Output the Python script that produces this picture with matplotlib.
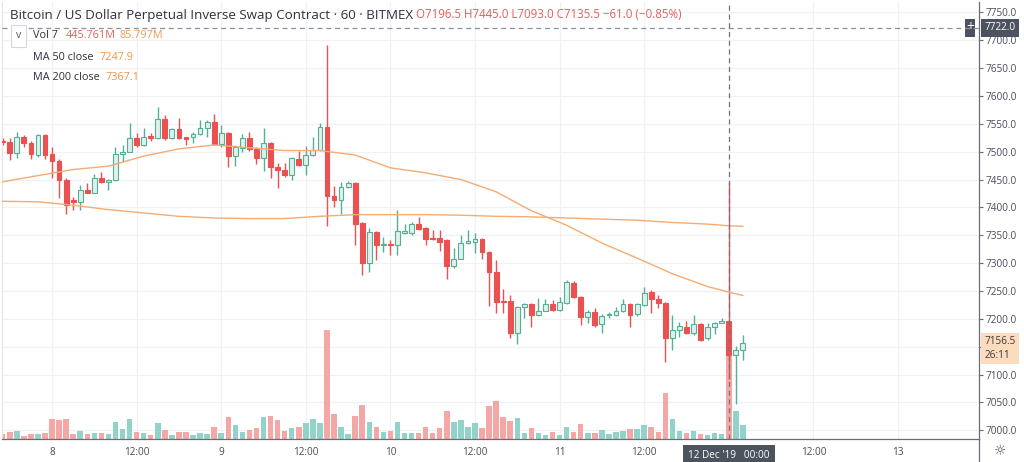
import matplotlib
matplotlib.use("Agg")
import matplotlib.pyplot as plt
import matplotlib.transforms as mtransforms
from matplotlib.lines import Line2D
import numpy as np

plt.rcParams['font.family'] = ['Open Sans', 'DejaVu Sans']

# -------------------------------
# Data: BTC/USD hourly candles, 7 Dec 17:00 -> 12 Dec 02:00
# -------------------------------
opens = [7520, 7518, 7498, 7527, 7516, 7494, 7530, 7496, 7483, 7450,
         7414, 7410, 7431, 7426, 7452, 7446, 7449, 7495, 7500, 7524,
         7512, 7528, 7524, 7558, 7525, 7540, 7526, 7526, 7531, 7542,
         7553, 7513, 7533, 7492, 7506, 7524, 7504, 7488, 7516, 7473,
         7467, 7458, 7486, 7476, 7494, 7503, 7544, 7421, 7413, 7436,
         7444, 7372, 7301, 7355, 7332, 7334, 7332, 7354, 7354, 7371,
         7363, 7346, 7346, 7341, 7294, 7308, 7337, 7338, 7344, 7320,
         7284, 7232, 7232, 7174, 7221, 7226, 7207, 7215, 7227, 7216,
         7228, 7265, 7239, 7204, 7213, 7190, 7207, 7207, 7214, 7226,
         7208, 7225, 7249, 7235, 7228, 7165, 7180, 7186, 7175, 7190,
         7165, 7186, 7193, 7196.5, 7135.5, 7145]
highs = [7525, 7524, 7536, 7530, 7520, 7532, 7532, 7509, 7486, 7452,
         7419, 7441, 7443, 7460, 7463, 7451, 7509, 7512, 7551, 7533,
         7542, 7533, 7581, 7565, 7542, 7560, 7527, 7536, 7557, 7556,
         7567, 7548, 7535, 7512, 7531, 7536, 7508, 7542, 7518, 7479,
         7480, 7491, 7502, 7510, 7527, 7552, 7691, 7438, 7446, 7448,
         7446, 7374, 7363, 7357, 7347, 7341, 7396, 7371, 7374, 7383,
         7365, 7359, 7359, 7343, 7328, 7350, 7360, 7354, 7346, 7322,
         7305, 7254, 7242, 7224, 7228, 7228, 7238, 7235, 7234, 7239,
         7269, 7268, 7241, 7216, 7219, 7208, 7213, 7221, 7235, 7228,
         7228, 7257, 7251, 7242, 7230, 7207, 7195, 7197, 7207, 7192,
         7192, 7195, 7202, 7445, 7151, 7171]
lows = [7512, 7485, 7488, 7509, 7486, 7490, 7487, 7452, 7416, 7389,
        7395, 7395, 7425, 7425, 7444, 7431, 7448, 7482, 7499, 7509,
        7510, 7519, 7522, 7521, 7523, 7523, 7512, 7515, 7530, 7527,
        7512, 7509, 7472, 7474, 7500, 7502, 7478, 7466, 7452, 7434,
        7454, 7450, 7474, 7459, 7493, 7502, 7366, 7400, 7389, 7435,
        7332, 7278, 7284, 7305, 7320, 7314, 7314, 7353, 7350, 7360,
        7332, 7341, 7322, 7271, 7292, 7307, 7335, 7318, 7308, 7224,
        7210, 7210, 7165, 7155, 7201, 7186, 7205, 7214, 7215, 7215,
        7226, 7237, 7189, 7192, 7186, 7175, 7201, 7205, 7212, 7186,
        7206, 7223, 7210, 7219, 7123, 7145, 7168, 7173, 7171, 7160,
        7163, 7172, 7192, 7093, 7048, 7126]
closes = [7517, 7498, 7527, 7515, 7495, 7530, 7494, 7484, 7450, 7404,
          7410, 7431, 7426, 7452, 7446, 7449, 7495, 7500, 7524, 7512,
          7527, 7525, 7558, 7524, 7540, 7525, 7523, 7531, 7542, 7553,
          7513, 7533, 7492, 7509, 7524, 7504, 7488, 7515, 7472, 7467,
          7458, 7488, 7476, 7494, 7503, 7544, 7420, 7413, 7437, 7444,
          7371, 7301, 7355, 7332, 7334, 7332, 7357, 7358, 7371, 7362,
          7344, 7344, 7338, 7294, 7308, 7336, 7339, 7344, 7320, 7284,
          7230, 7230, 7174, 7221, 7226, 7207, 7215, 7227, 7216, 7230,
          7266, 7239, 7204, 7213, 7189, 7205, 7209, 7215, 7226, 7207,
          7226, 7246, 7235, 7228, 7165, 7180, 7187, 7175, 7190, 7163,
          7185, 7193, 7197, 7135.5, 7145, 7156.5]
volumes_m = [25, 36, 41, 17, 23, 23, 31, 101, 92, 101,
             26, 41, 23, 31, 31, 26, 84, 50, 97, 36,
             31, 20, 79, 45, 20, 36, 33, 20, 31, 23,
             58, 31, 111, 71, 36, 45, 54, 111, 116, 94,
             41, 54, 58, 79, 97, 79, 540, 122, 61, 23,
             114, 170, 84, 58, 36, 41, 84, 31, 28, 31,
             58, 28, 54, 140, 84, 92, 61, 81, 54, 162,
             188, 111, 89, 106, 31, 54, 31, 20, 36, 20,
             61, 36, 74, 28, 31, 45, 23, 36, 41, 50,
             50, 71, 61, 36, 226, 97, 41, 28, 41, 23,
             20, 28, 23, 445.761, 137, 71]

# moving averages read at every 5th candle
ma_idx = [0, 5, 10, 15, 20, 25, 30, 35, 40, 45, 50, 55, 60, 65, 70, 75,
          80, 85, 90, 95, 100, 103, 105]
ma50 = [7446, 7457, 7468, 7474, 7492, 7505, 7512, 7507, 7502, 7502, 7494,
        7471, 7462, 7450, 7428, 7394, 7368, 7336, 7309, 7281, 7258, 7248, 7242]
ma200 = [7411, 7410, 7404, 7396, 7390, 7384, 7381, 7380, 7380, 7384, 7387,
         7387, 7387, 7386, 7384, 7383, 7381, 7379, 7377, 7373, 7370, 7367, 7366]

first_hour = -7  # 7 Dec 17:00 relative to 8 Dec 00:00
tick_hours = [0, 12, 24, 36, 48, 60, 72, 84, 96, 108, 120]
tick_labels = ["8", "12:00", "9", "12:00", "10", "12:00", "11", "12:00", "", "12:00", "13"]
price_ticks = list(range(7000, 7751, 50))

cross_hour = 96
cross_price = 7722.0
last_price = 7156.5

# -------------------------------
# Figure
# -------------------------------
W, H = 1024, 462
fig = plt.figure(figsize=(W / 100, H / 100), dpi=100)
fig.patch.set_facecolor("white")
rect = [2 / W, 23 / H, 977 / W, 437 / H]

up_c = "#53b096"
up_fill = "#dff1ea"
dn_c = "#ea5150"
vol_up = "#92d3c9"
vol_dn = "#f4a7a5"
ma_c = "#f6ab72"
grid_c = "#eff1f5"
txt_c = "#4a4d57"

hours = np.arange(len(opens)) + first_hour
o = np.array(opens); c = np.array(closes)
up = c >= o

ax_grid = fig.add_axes(rect)
ax_vol = fig.add_axes(rect)
ax = fig.add_axes(rect)
for a in (ax_vol, ax):
    a.patch.set_alpha(0)

xlim = (-7.1, 131.5)
ylim = (6984.5, 7768.5)
for a in (ax_grid, ax_vol, ax):
    a.set_xlim(*xlim)
ax_grid.set_ylim(*ylim)
ax.set_ylim(*ylim)
ax_vol.set_ylim(0, 2164)

# grid
for h in tick_hours:
    ax_grid.axvline(h, color=grid_c, lw=0.9, zorder=0)
for p in price_ticks:
    ax_grid.axhline(p, color=grid_c, lw=0.9, zorder=0)
ax_grid.axis("off")

# volume
ax_vol.bar(hours, volumes_m, width=0.78,
           color=[vol_up if u else vol_dn for u in up], zorder=1)
ax_vol.axis("off")

# candles
ax.vlines(hours, lows, highs, colors=[up_c if u else dn_c for u in up], lw=1.0, zorder=2)
bottoms = np.minimum(o, c)
heights = np.maximum(np.abs(c - o), 1.6)
ax.bar(hours, heights, bottom=bottoms, width=0.68,
       color=[up_fill if u else dn_c for u in up],
       edgecolor=[up_c if u else dn_c for u in up], linewidth=0.8, zorder=3)

# moving averages
ma_h = [hours[i] for i in ma_idx]
ax.plot(ma_h, ma50, color=ma_c, lw=1.0, zorder=4)
ax.plot(ma_h, ma200, color=ma_c, lw=1.0, zorder=4)

# crosshair
ax.axvline(cross_hour, color="#6f7582", lw=0.9, ls=(0, (4, 3)), zorder=5)
ax.axhline(cross_price, color="#8a909c", lw=0.9, ls=(0, (4, 3)), zorder=5)

# axes styling
ax.yaxis.tick_right()
ax.set_yticks(price_ticks)
# 7150 is hidden behind the last-price label
ax.set_yticklabels(["" if p == 7150 else f"{p:.1f}" for p in price_ticks])
ax.tick_params(axis="y", length=3, width=0.8, color="#6a6d78", pad=2,
               labelsize=7.2, labelcolor=txt_c)
ax.set_xticks(tick_hours)
ax.set_xticklabels(tick_labels)
ax.tick_params(axis="x", length=0, pad=6, labelsize=7.2, labelcolor=txt_c)
ax.spines["top"].set_visible(False)
ax.spines["left"].set_color("#e1e3ea")
ax.spines["right"].set_color("#6a6d78")
ax.spines["bottom"].set_color("#6a6d78")
ax.spines["right"].set_linewidth(0.9)
ax.spines["bottom"].set_linewidth(0.9)
fig.add_artist(Line2D([979 / W, 979 / W], [0, 23 / H], color="#6a6d78", lw=0.9,
                      transform=fig.transFigure))

# price labels on right axis
tr = mtransforms.blended_transform_factory(ax.transAxes, ax.transData)
ax.annotate(f"{cross_price:.1f}", xy=(1, cross_price), xycoords=tr,
            xytext=(4, 0), textcoords="offset points", va="center", ha="left",
            fontsize=7.2, color="white", annotation_clip=False,
            bbox=dict(boxstyle="square,pad=0.35", fc="#4c525e", ec="none"))
ax.annotate("+", xy=(1, cross_price), xycoords=tr,
            xytext=(-6.5, 0), textcoords="offset points", va="center", ha="center",
            fontsize=10, color="white", annotation_clip=False,
            bbox=dict(boxstyle="square,pad=0.1", fc="#4c525e", ec="none"))
ax.annotate(f"{last_price:.1f}\n26:11", xy=(1, last_price), xycoords=tr,
            xytext=(4, 5), textcoords="offset points", va="top", ha="left",
            fontsize=7.2, color="#3d3a36", annotation_clip=False, linespacing=1.3,
            bbox=dict(boxstyle="square,pad=0.35", fc="#fbdcbf", ec="none"))

# date box under crosshair
ax.annotate("12 Dec '19   00:00", xy=(cross_hour, 0), xycoords=("data", "axes fraction"),
            xytext=(0, -12), textcoords="offset points", va="center", ha="center",
            fontsize=7.2, color="white", annotation_clip=False,
            bbox=dict(boxstyle="square,pad=0.55", fc="#4c525e", ec="none"))

# gear icon
fig.text(1000 / W, 1 - 451 / H, "\u263c", fontsize=10, color="#4a4d57",
         ha="center", va="center", family=["DejaVu Sans"])

# -------------------------------
# Header texts
# -------------------------------
def px(x, y):
    return x / W, 1 - y / H

fig.text(*px(10, 15), "Bitcoin / US Dollar Perpetual Inverse Swap Contract \u00b7 60 \u00b7 BITMEX",
         fontsize=9.6, color="#2f323b", va="center", ha="left")
fig.text(*px(416, 15), "O7196.5 H7445.0 L7093.0 C7135.5 \u221261.0 (\u22120.85%)",
         fontsize=8.3, color="#e25f5c", va="center", ha="left")

fig.text(*px(18.5, 36), "v", fontsize=7.5, color="#555", va="center", ha="center",
         bbox=dict(boxstyle="square,pad=0.5", fc="white", ec="#d6d8de", lw=0.8))
fig.text(*px(33, 36), "Vol 7", fontsize=7.8, color="#2f323b", va="center")
fig.text(*px(66, 36), "445.761M", fontsize=7.8, color="#e0625f", va="center")
fig.text(*px(119, 36), "85.797M", fontsize=7.8, color="#ef9a55", va="center")
fig.text(*px(33, 57), "MA 50 close", fontsize=7.8, color="#2f323b", va="center")
fig.text(*px(100, 57), "7247.9", fontsize=7.8, color="#ef9443", va="center")
fig.text(*px(33, 78), "MA 200 close", fontsize=7.8, color="#2f323b", va="center")
fig.text(*px(106, 78), "7367.1", fontsize=7.8, color="#ef9443", va="center")

fig.savefig("out.png", dpi=100)
